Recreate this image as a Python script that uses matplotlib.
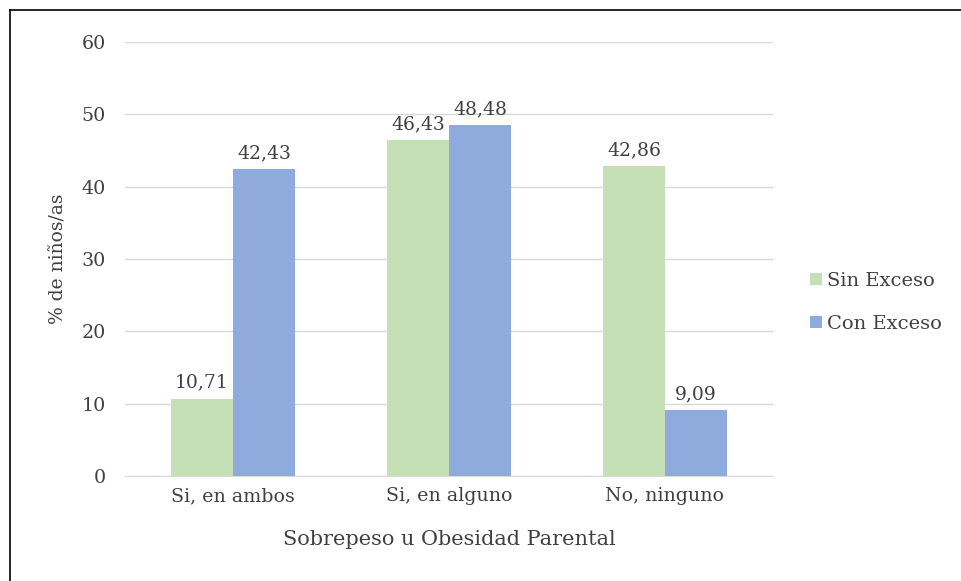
import numpy as np
import matplotlib.pyplot as plt
from matplotlib.lines import Line2D

plt.rcParams['font.family'] = ['DejaVu Serif']

categorias = ["Si, en ambos", "Si, en alguno", "No, ninguno"]
sin_exceso = [10.71, 46.43, 42.86]
con_exceso = [42.43, 48.48, 9.09]
series = ["Sin Exceso", "Con Exceso"]
colores = ["#c5e0b4", "#8faadc"]
texto = "#404040"

fig = plt.figure(figsize=(9.62, 5.81), dpi=100)
ax = fig.add_axes([0.130, 0.1807, 0.6735, 0.747])

x = np.arange(len(categorias))
w = 0.287
b1 = ax.bar(x - w / 2, sin_exceso, w, color=colores[0], label=series[0], zorder=3)
b2 = ax.bar(x + w / 2, con_exceso, w, color=colores[1], label=series[1], zorder=3)

for barras in (b1, b2):
    for b in barras:
        v = b.get_height()
        ax.annotate(f"{v:.2f}".replace(".", ","), (b.get_x() + b.get_width() / 2, v),
                    xytext=(0, 5), textcoords="offset points", ha="center", va="bottom",
                    fontsize=13.5, color=texto)

ax.set_xlim(-0.5, 2.5)
ax.set_ylim(0, 60)
ax.set_yticks(range(0, 61, 10))
ax.set_xticks(x)
ax.set_xticklabels(categorias)
ax.tick_params(length=0, labelsize=13.7, labelcolor=texto)
ax.tick_params(axis="y", pad=14)
ax.tick_params(axis="x", pad=8)
ax.yaxis.grid(True, color="#d9d9d9", linewidth=1, zorder=0)
for s in ("left", "right", "top"):
    ax.spines[s].set_visible(False)
ax.spines["bottom"].set_color("#d9d9d9")
ax.set_ylabel("% de niños/as", fontsize=13.5, color=texto, labelpad=10)
ax.set_xlabel("Sobrepeso u Obesidad Parental", fontsize=15, color=texto, labelpad=18)

ax.legend(loc="center left", bbox_to_anchor=(1.03, 0.40), frameon=False, fontsize=14,
          handlelength=0.6, handleheight=0.6, handletextpad=0.3, labelspacing=1.3,
          labelcolor=texto)

# marco del gráfico
fig.add_artist(Line2D([10 / 962, 10 / 962], [0, 1 - 10 / 581], color="black", linewidth=1.2))
fig.add_artist(Line2D([10 / 962, 1], [1 - 10 / 581, 1 - 10 / 581], color="black", linewidth=1.2))

fig.savefig("out.png", dpi=100)
